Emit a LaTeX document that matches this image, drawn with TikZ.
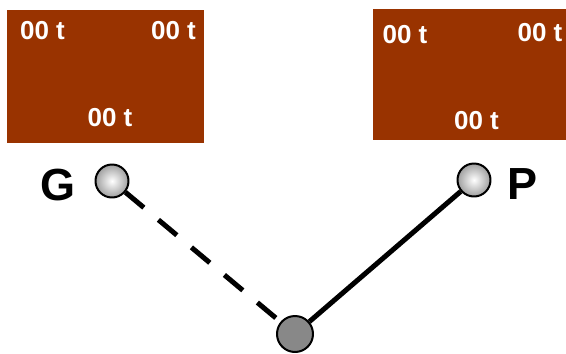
\documentclass[tikz,border=0pt]{standalone}
\usepackage{fontspec}
\setmainfont{Liberation Sans}
\definecolor{boxbrown}{RGB}{153,51,0}
\definecolor{nodegray}{RGB}{136,136,136}
\begin{document}
\begin{tikzpicture}[x=1pt,y=-1pt,line join=round,thick]
				\tikzset{every node/.style={font=\bfseries},
					tag/.style={text=white,font=\fontsize{26}{26}\selectfont\bfseries,inner sep=0pt},
					letter/.style={font=\fontsize{45}{45}\selectfont\bfseries,inner sep=0pt},
					ball/.style={circle,draw=black,line width=2pt,minimum size=33pt,inner sep=0pt},
					shiny/.style={shading=radial,inner color=white,outer color=gray!75},
					bond/.style={line width=5pt,line cap=butt}}
				\useasboundingbox (0,0) rectangle (566,354);
				\fill[boxbrown] (7,10) rectangle (204,143);
				\fill[boxbrown] (373,9) rectangle (570,140);
				\foreach \x/\y/\n in {42.5/31/ga,173.5/31/gb,110/118/gc,405/34.5/pa,540/33/pb,476.5/121/pc}
				\node[tag] (\n) at (\x,\y) {00 t};
				\node[letter] (G) at (58,185) {G};
				\node[letter] (P) at (523,184) {P};
				\node[ball,shiny] (g) at (112,181) {};
				\node[ball,shiny] (p) at (474,180) {};
				\node[ball,fill=nodegray,minimum size=36pt] (m) at (295,334) {};
				\draw[bond,dash pattern=on 24pt off 19pt] (g)--(m);
				\draw[bond] (m)--(p);
			\end{tikzpicture}
\end{document}
